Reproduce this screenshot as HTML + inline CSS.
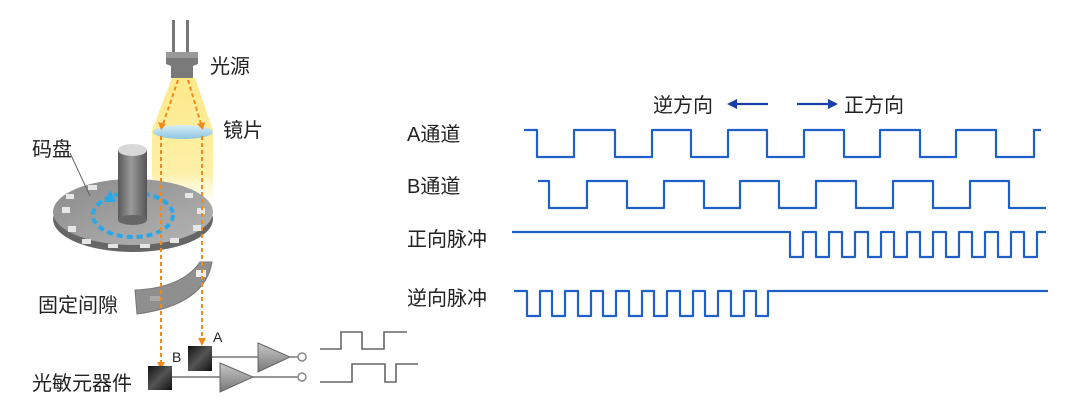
<!DOCTYPE html>
<html><head><meta charset="utf-8"><style>
body{margin:0;background:#fff;}
svg{display:block}
text{font-family:"Liberation Sans","Noto Sans CJK SC",sans-serif;fill:#222;}
</style></head><body>
<svg width="1080" height="409" viewBox="0 0 1080 409" xmlns="http://www.w3.org/2000/svg">
<defs>
<linearGradient id="yl" x1="0" y1="0" x2="0" y2="1">
<stop offset="0" stop-color="#fde98a"/><stop offset="0.7" stop-color="#fdf0a8"/><stop offset="1" stop-color="#fff" stop-opacity="0"/></linearGradient>
<linearGradient id="cyl" x1="0" y1="0" x2="1" y2="0">
<stop offset="0" stop-color="#5a5a5a"/><stop offset="0.45" stop-color="#9a9a9a"/><stop offset="1" stop-color="#555"/></linearGradient>
<linearGradient id="disk" x1="0" y1="0" x2="1" y2="1">
<stop offset="0" stop-color="#8a8a8a"/><stop offset="1" stop-color="#b5b5b5"/></linearGradient>
<linearGradient id="box" x1="0" y1="0" x2="1" y2="1">
<stop offset="0" stop-color="#111"/><stop offset="0.5" stop-color="#555"/><stop offset="1" stop-color="#111"/></linearGradient>
<linearGradient id="tri" x1="0" y1="0" x2="0" y2="1">
<stop offset="0" stop-color="#c8c8c8"/><stop offset="1" stop-color="#777"/></linearGradient>
<linearGradient id="lens" x1="0" y1="0" x2="0" y2="1">
<stop offset="0" stop-color="#d8eef8"/><stop offset="1" stop-color="#8cc4e0"/></linearGradient>
</defs>

<path d="M172,78 L195,78 L213,130 L213,215 L152,215 L152,130 Z" fill="url(#yl)"/>
<rect x="172" y="20" width="3" height="34" fill="#777"/>
<rect x="186" y="20" width="3" height="34" fill="#777"/>
<path d="M166,52 L198,52 L198,64 L193,66 L193,78 L171,78 L171,66 L166,64 Z" fill="#7a7a7a"/>
<rect x="166" y="52" width="32" height="6" fill="#999"/>
<ellipse cx="183" cy="132" rx="30" ry="7" fill="url(#lens)"/>

<ellipse cx="133" cy="219" rx="80" ry="33" fill="#666"/>
<ellipse cx="133" cy="212" rx="80" ry="33" fill="url(#disk)"/>
<g fill="#e6e6e6">
<rect x="62" y="207" width="8" height="6"/><rect x="68" y="226" width="8" height="6"/>
<rect x="82" y="239" width="9" height="5"/><rect x="108" y="244" width="10" height="4"/>
<rect x="140" y="244" width="10" height="4"/><rect x="170" y="238" width="9" height="5"/>
<rect x="193" y="225" width="8" height="6"/><rect x="197" y="208" width="8" height="6"/>
<rect x="185" y="193" width="8" height="5"/><rect x="88" y="185" width="9" height="5"/>
<rect x="66" y="194" width="8" height="5"/>
</g>
<ellipse cx="133" cy="215" rx="40" ry="22" fill="none" stroke="#2aa7e8" stroke-width="4" stroke-dasharray="6,4"/>
<path d="M104,202 L110,190 L116,202 Z" fill="#2aa7e8"/>
<rect x="118" y="150" width="29" height="70" fill="url(#cyl)"/>
<ellipse cx="132.5" cy="220" rx="14.5" ry="5" fill="#666"/>
<ellipse cx="132.5" cy="150" rx="14.5" ry="6" fill="#d8d8d8"/>
<line x1="70" y1="153" x2="90" y2="196" stroke="#666" stroke-width="1"/>

<path d="M135,290 Q182,288 200,262 L212,262 Q205,305 137,314 Z" fill="#8f8f8f" stroke="#777"/>
<rect x="196" y="270" width="10" height="7" fill="#eee"/>
<rect x="150" y="296" width="10" height="5" fill="#aaa"/>

<g stroke="#f08a1c" stroke-width="2" stroke-dasharray="4,3" fill="none">
<line x1="178" y1="80" x2="163" y2="124"/>
<line x1="188" y1="80" x2="201" y2="124"/>
<line x1="161" y1="136" x2="161" y2="364"/>
<line x1="202" y1="136" x2="202" y2="340"/>
</g>
<g fill="#f08a1c">
<path d="M158,122 L166,124 L161,130 Z"/><path d="M197,124 L205,122 L203,130 Z"/>
<path d="M157,362 L165,362 L161,370 Z"/><path d="M198,338 L206,338 L202,346 Z"/>
</g>

<rect x="188" y="346" width="24" height="25" fill="url(#box)"/>
<rect x="148" y="366" width="24" height="24" fill="url(#box)"/>
<g stroke="#777" stroke-width="1.5" fill="none">
<line x1="212" y1="357" x2="258" y2="357"/>
<line x1="172" y1="377" x2="220" y2="377"/>
<line x1="290" y1="357" x2="298" y2="357"/>
<line x1="253" y1="377" x2="298" y2="377"/>
</g>
<path d="M258,343 L290,357 L258,372 Z" fill="url(#tri)" stroke="#666"/>
<path d="M220,363 L253,377 L220,392 Z" fill="url(#tri)" stroke="#666"/>
<circle cx="302" cy="357" r="4" fill="#fff" stroke="#888" stroke-width="1.5"/>
<circle cx="302" cy="377" r="4" fill="#fff" stroke="#888" stroke-width="1.5"/>
<g stroke="#666" stroke-width="1.6" fill="none">
<path d="M320,349 H341 V332 H362 V349 H384 V332 H407"/>
<path d="M320,382 H352 V364 H385 V382 H396 V364 H418"/>
</g>
<text x="213" y="342" font-size="14">A</text>
<text x="172" y="362" font-size="14">B</text>

<text x="210" y="73" font-size="20">光源</text>
<text x="223" y="137" font-size="20">镜片</text>
<text x="32" y="156" font-size="20">码盘</text>
<text x="38" y="312" font-size="20">固定间隙</text>
<text x="32" y="390" font-size="20">光敏元器件</text>

<text x="653" y="112" font-size="20">逆方向</text>
<text x="844" y="112" font-size="20">正方向</text>
<g stroke="#1a3fa8" stroke-width="2.2"><line x1="734" y1="104" x2="768" y2="104"/><line x1="797" y1="104" x2="830" y2="104"/></g>
<path d="M727,104 L737,99 L737,109 Z" fill="#1a3fa8"/>
<path d="M838,104 L828,99 L828,109 Z" fill="#1a3fa8"/>
<text x="407" y="141" font-size="20">A通道</text>
<text x="407" y="193" font-size="20">B通道</text>
<text x="407" y="246" font-size="20">正向脉冲</text>
<text x="407" y="305" font-size="20">逆向脉冲</text>

<g stroke="#1f5fc8" stroke-width="2.2" fill="none" stroke-linejoin="round">
<path d="M524,130 H537 V157 H574 V130 H615 V157 H652 V130 H691 V157 H728 V130 H767 V157 H804 V130 H844 V157 H880 V130 H920 V157 H956 V130 H996 V157 H1034 V130 H1041"/>
<path d="M538,181 H549 V208 H587 V181 H627 V208 H664 V181 H704 V208 H740 V181 H779 V208 H816 V181 H856 V208 H893 V181 H933 V208 H970 V181 H1009 V208 H1046"/>
<path d="M512,232 H790 V257 H803 V232 H816 V257 H829 V232 H842 V257 H855 V232 H868 V257 H881 V232 H894 V257 H907 V232 H920 V257 H933 V232 H946 V257 H959 V232 H972 V257 H985 V232 H998 V257 H1011 V232 H1024 V257 H1037 V232 H1046"/>
<path d="M514,291 H527 V316 H540 V291 H552 V316 H565 V291 H578 V316 H591 V291 H603 V316 H616 V291 H629 V316 H642 V291 H654 V316 H667 V291 H680 V316 H693 V291 H705 V316 H718 V291 H731 V316 H744 V291 H756 V316 H768 V291 H1048"/>
</g>
</svg>
</body></html>
